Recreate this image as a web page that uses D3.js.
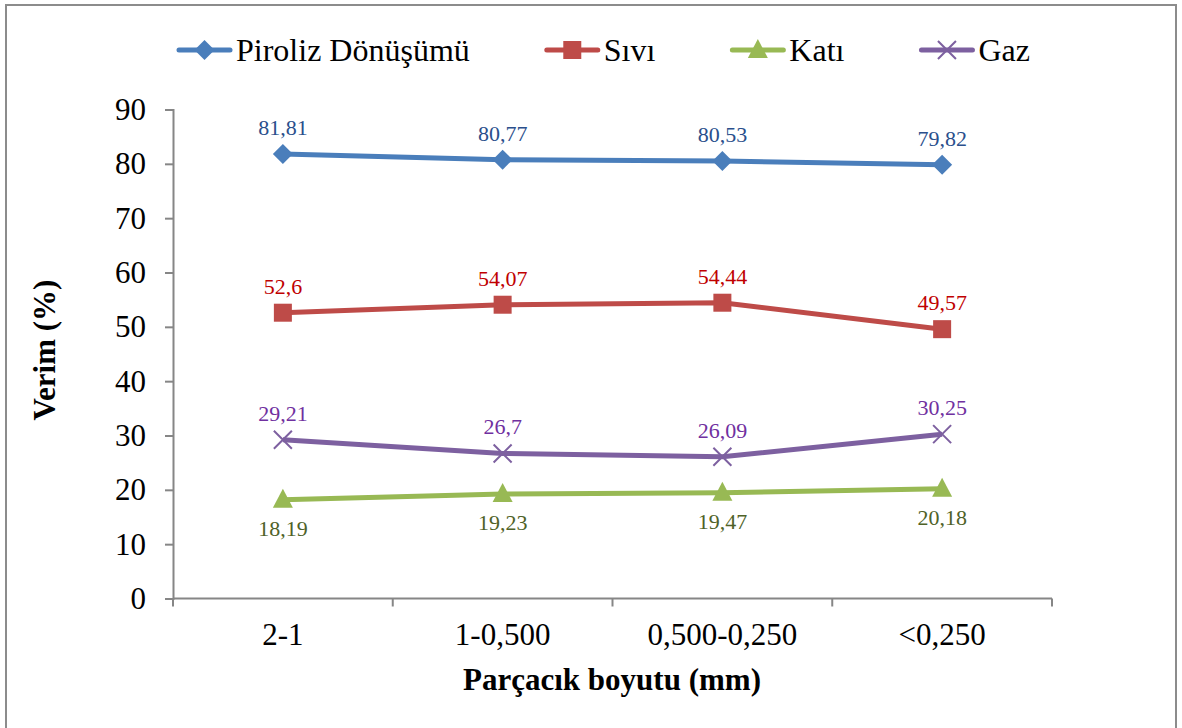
<!DOCTYPE html>
<html>
<head>
<meta charset="utf-8">
<script src="https://cdn.jsdelivr.net/npm/d3@7"></script>
<style>
  body { margin: 0; background: #fff; }
</style>
</head>
<body>
<div id="chart"></div>
<script>
{ // limit scope...
const categories = ["2-1", "1-0,500", "0,500-0,250", "<0,250"];
const yTicks = [0, 10, 20, 30, 40, 50, 60, 70, 80, 90];

const piroliz = [81.81, 80.77, 80.53, 79.82];
const sivi = [52.6, 54.07, 54.44, 49.57];
const kati = [18.19, 19.23, 19.47, 20.18];
const gaz = [29.21, 26.7, 26.09, 30.25];

const seriesNames = ["Piroliz Dönüşümü", "Sıvı", "Katı", "Gaz"];
const seriesValues = [piroliz, sivi, kati, gaz];
const lineColors = ["#4A7EBB", "#BE4B48", "#98B954", "#7D60A0"];
const labelColors = ["#2A4F8C", "#C00000", "#4F6228", "#7030A0"];
const markers = ["diamond", "square", "triangle", "x"];
const labelBelow = [false, false, true, false];

const FONT = "'Times New Roman', 'Liberation Serif', 'DejaVu Serif', serif";

const width = 1182,
      height = 728;

const svg = d3.select("#chart").append("svg")
    .attr("width", width)
    .attr("height", height)
    .attr("viewBox", [0, 0, width, height])
    .style("font-family", FONT);

// Frame (bottom edge is outside the picture).
svg.append("path")
    .attr("d", "M6,730 L6,5 L1176,5 L1176,730")
    .attr("fill", "none")
    .attr("stroke", "#8c8c8c")
    .attr("stroke-width", 2);

const x = d3.scaleBand(categories, [173, 1052]);
const y = d3.scaleLinear([0, 90], [598.5, 109.5]);
const axisColor = "#868686";

// Y axis.
const yAxis = svg.append("g")
    .attr("transform", "translate(173,0)")
    .call(d3.axisLeft(y).tickValues(yTicks).tickSize(8).tickPadding(19))
    .attr("font-family", null);
yAxis.select(".domain").attr("stroke", axisColor).attr("stroke-width", 2);
yAxis.selectAll(".tick line").attr("stroke", axisColor).attr("stroke-width", 2);
yAxis.selectAll(".tick text")
    .style("font-family", FONT)
    .attr("font-size", 31)
    .attr("fill", "#000");

// X axis: ticks on band edges.
const xAxis = svg.append("g")
    .attr("transform", "translate(0,598.5)");
xAxis.append("line")
    .attr("x1", x.range()[0]).attr("x2", x.range()[1])
    .attr("stroke", axisColor).attr("stroke-width", 2);
const edges = categories.map(c => x(c)).concat([x.range()[1]]);
xAxis.selectAll("line.tk")
    .data(edges)
    .join("line")
        .attr("class", "tk")
        .attr("x1", d => d).attr("x2", d => d)
        .attr("y1", 0).attr("y2", 8)
        .attr("stroke", axisColor).attr("stroke-width", 2);
xAxis.selectAll("text")
    .data(categories)
    .join("text")
        .attr("x", d => x(d) + x.bandwidth() / 2)
        .attr("y", 46)
        .attr("text-anchor", "middle")
        .attr("font-size", 31)
        .attr("fill", "#000")
        .text(d => d);

// Axis titles.
svg.append("text")
    .attr("x", 612)
    .attr("y", 690)
    .attr("text-anchor", "middle")
    .attr("font-size", 31)
    .attr("font-weight", "bold")
    .text("Parçacık boyutu (mm)");

svg.append("text")
    .attr("transform", "translate(55,350) rotate(-90)")
    .attr("text-anchor", "middle")
    .attr("font-size", 31)
    .attr("font-weight", "bold")
    .text("Verim (%)");

function drawMarker(g, type, color) {
    if (type === "diamond") {
        g.append("path").attr("d", "M0,-10 L10,0 L0,10 L-10,0 Z").attr("fill", color);
    } else if (type === "square") {
        g.append("rect").attr("x", -9).attr("y", -9).attr("width", 18).attr("height", 18).attr("fill", color);
    } else if (type === "triangle") {
        g.append("path").attr("d", "M0,-11 L10,8 L-10,8 Z").attr("fill", color);
    } else {
        g.append("path").attr("d", "M-9,-9 L9,9 M-9,9 L9,-9")
            .attr("stroke", color).attr("stroke-width", 2).attr("fill", "none");
    }
}

const fmt = v => String(v).replace(".", ",");
const line = d3.line()
    .x((d, i) => x(categories[i]) + x.bandwidth() / 2)
    .y(d => y(d));

seriesValues.forEach((vals, s) => {
    const g = svg.append("g");
    g.append("path")
        .datum(vals)
        .attr("d", line)
        .attr("fill", "none")
        .attr("stroke", lineColors[s])
        .attr("stroke-width", 5)
        .attr("stroke-linejoin", "round");

    vals.forEach((v, i) => {
        const px = x(categories[i]) + x.bandwidth() / 2;
        const m = g.append("g").attr("transform", `translate(${px},${y(v)})`);
        drawMarker(m, markers[s], lineColors[s]);
        g.append("text")
            .attr("x", px)
            .attr("y", labelBelow[s] ? y(v) + 36 : y(v) - 19)
            .attr("text-anchor", "middle")
            .attr("font-size", 22)
            .attr("fill", labelColors[s])
            .text(fmt(v));
    });
});

// Legend.
const legend = svg.append("g").attr("transform", "translate(0,50)");
let lx = 177;
seriesNames.forEach((name, s) => {
    const item = legend.append("g").attr("transform", `translate(${lx},0)`);
    item.append("line")
        .attr("x1", 2).attr("x2", 53)
        .attr("stroke", lineColors[s])
        .attr("stroke-width", 5)
        .attr("stroke-linecap", "round");
    drawMarker(item.append("g").attr("transform", "translate(27.5,0)"), markers[s], lineColors[s]);
    const t = item.append("text")
        .attr("x", 59)
        .attr("y", 11)
        .attr("font-size", 32)
        .attr("fill", "#000")
        .text(name);
    lx += 59 + t.node().getComputedTextLength() + 75;
});
}
</script>
</body>
</html>
